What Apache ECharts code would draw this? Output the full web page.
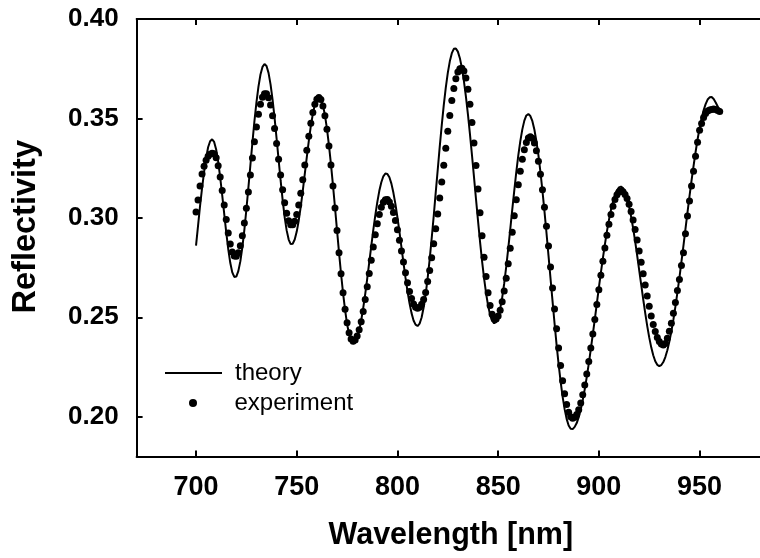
<!DOCTYPE html>
<html><head><meta charset="utf-8">
<script src="https://cdn.jsdelivr.net/npm/echarts@6/dist/echarts.min.js"></script>
<style>html,body{margin:0;padding:0;background:#fff}#c{width:760px;height:558px}</style>
</head><body><div id="c"></div>
<script>
// sampling grid (nm)
const wavelengthStart = 700;
const wavelengthStep = 1;

// theory reflectivity, 700..960 nm, 1 nm steps
const theory = [
0.2860,0.2960,0.3060,0.3150,0.3230,0.3300,0.3355,0.3385,0.3395,0.3382,
0.3344,0.3283,0.3204,0.3114,0.3020,0.2927,0.2843,0.2774,0.2726,0.2703,
0.2705,0.2732,0.2781,0.2852,0.2940,0.3042,0.3152,0.3266,0.3379,0.3486,
0.3581,0.3660,0.3721,0.3759,0.3774,0.3764,0.3729,0.3671,0.3595,0.3503,
0.3399,0.3293,0.3188,0.3090,0.3004,0.2937,0.2891,0.2868,0.2870,0.2891,
0.2931,0.2987,0.3057,0.3136,0.3221,0.3306,0.3387,0.3462,0.3523,0.3570,
0.3599,0.3609,0.3598,0.3567,0.3517,0.3449,0.3365,0.3269,0.3163,0.3052,
0.2938,0.2825,0.2719,0.2622,0.2537,0.2466,0.2414,0.2381,0.2369,0.2376,
0.2397,0.2434,0.2484,0.2546,0.2617,0.2694,0.2776,0.2858,0.2938,0.3013,
0.3079,0.3136,0.3179,0.3209,0.3223,0.3221,0.3204,0.3172,0.3126,0.3069,
0.3002,0.2929,0.2852,0.2774,0.2699,0.2630,0.2570,0.2521,0.2484,0.2463,
0.2456,0.2468,0.2499,0.2549,0.2615,0.2697,0.2791,0.2897,0.3008,0.3127,
0.3242,0.3358,0.3466,0.3567,0.3655,0.3729,0.3787,0.3828,0.3850,0.3852,
0.3836,0.3803,0.3753,0.3688,0.3610,0.3520,0.3421,0.3316,0.3206,0.3095,
0.2986,0.2881,0.2784,0.2697,0.2621,0.2559,0.2512,0.2483,0.2470,0.2476,
0.2500,0.2542,0.2599,0.2670,0.2753,0.2845,0.2942,0.3041,0.3137,0.3230,
0.3314,0.3386,0.3445,0.3489,0.3515,0.3522,0.3512,0.3486,0.3443,0.3385,
0.3314,0.3230,0.3135,0.3033,0.2924,0.2810,0.2695,0.2581,0.2470,0.2363,
0.2266,0.2178,0.2101,0.2038,0.1989,0.1956,0.1939,0.1938,0.1949,0.1968,
0.1998,0.2036,0.2084,0.2139,0.2200,0.2267,0.2340,0.2415,0.2491,0.2570,
0.2649,0.2725,0.2798,0.2867,0.2932,0.2989,0.3039,0.3081,0.3115,0.3139,
0.3153,0.3157,0.3150,0.3130,0.3100,0.3058,0.3007,0.2948,0.2883,0.2812,
0.2739,0.2665,0.2592,0.2522,0.2457,0.2399,0.2349,0.2309,0.2279,0.2261,
0.2255,0.2260,0.2275,0.2300,0.2334,0.2378,0.2429,0.2488,0.2554,0.2625,
0.2700,0.2780,0.2861,0.2945,0.3027,0.3109,0.3187,0.3260,0.3330,0.3394,
0.3451,0.3500,0.3541,0.3572,0.3595,0.3606,0.3608,0.3598,0.3580,0.3560,
0.3540
];

// measured reflectivity, 700..960 nm, 1 nm steps
const experiment = [
0.3030,0.3090,0.3160,0.3220,0.3260,0.3290,0.3310,0.3320,0.3325,0.3322,
0.3302,0.3262,0.3206,0.3138,0.3065,0.2992,0.2924,0.2868,0.2828,0.2808,
0.2807,0.2825,0.2860,0.2910,0.2974,0.3048,0.3130,0.3216,0.3301,0.3383,
0.3457,0.3521,0.3571,0.3606,0.3624,0.3624,0.3604,0.3567,0.3514,0.3449,
0.3374,0.3295,0.3216,0.3141,0.3076,0.3023,0.2986,0.2966,0.2966,0.2983,
0.3017,0.3065,0.3124,0.3192,0.3266,0.3340,0.3411,0.3476,0.3530,0.3571,
0.3596,0.3605,0.3595,0.3563,0.3513,0.3445,0.3362,0.3266,0.3160,0.3049,
0.2936,0.2825,0.2719,0.2623,0.2540,0.2472,0.2422,0.2391,0.2380,0.2386,
0.2406,0.2437,0.2478,0.2529,0.2589,0.2653,0.2720,0.2787,0.2853,0.2915,
0.2970,0.3017,0.3053,0.3078,0.3091,0.3092,0.3080,0.3059,0.3027,0.2987,
0.2940,0.2888,0.2833,0.2778,0.2724,0.2674,0.2630,0.2594,0.2567,0.2550,
0.2545,0.2550,0.2565,0.2590,0.2625,0.2680,0.2735,0.2800,0.2870,0.2945,
0.3020,0.3100,0.3180,0.3265,0.3350,0.3435,0.3515,0.3590,0.3650,0.3700,
0.3733,0.3750,0.3752,0.3738,0.3703,0.3647,0.3571,0.3480,0.3377,0.3263,
0.3145,0.3026,0.2910,0.2802,0.2705,0.2624,0.2559,0.2515,0.2493,0.2492,
0.2507,0.2535,0.2578,0.2632,0.2696,0.2769,0.2847,0.2928,0.3011,0.3091,
0.3167,0.3235,0.3295,0.3343,0.3379,0.3401,0.3408,0.3400,0.3377,0.3338,
0.3285,0.3219,0.3142,0.3054,0.2958,0.2858,0.2753,0.2647,0.2542,0.2442,
0.2346,0.2258,0.2181,0.2115,0.2062,0.2023,0.2000,0.1992,0.1997,0.2011,
0.2035,0.2069,0.2110,0.2159,0.2215,0.2278,0.2345,0.2416,0.2489,0.2564,
0.2638,0.2711,0.2782,0.2849,0.2912,0.2968,0.3017,0.3058,0.3092,0.3116,
0.3130,0.3135,0.3131,0.3118,0.3097,0.3068,0.3032,0.2989,0.2942,0.2889,
0.2834,0.2777,0.2719,0.2662,0.2607,0.2555,0.2507,0.2464,0.2428,0.2399,
0.2378,0.2366,0.2361,0.2368,0.2395,0.2430,0.2470,0.2520,0.2575,0.2635,
0.2690,0.2760,0.2825,0.2920,0.3010,0.3085,0.3160,0.3235,0.3310,0.3380,
0.3440,0.3475,0.3505,0.3525,0.3537,0.3543,0.3545,0.3547,0.3545,0.3540,
0.3535
];

const xTicks = [700, 750, 800, 850, 900, 950];
const yTicks = [0.20, 0.25, 0.30, 0.35, 0.40];
const seriesNames = ['theory', 'experiment'];
const xTitle = 'Wavelength [nm]';
const yTitle = 'Reflectivity';

const toPairs = arr => arr.map((v, i) => [wavelengthStart + i * wavelengthStep, v]);

const FONT = '"Liberation Sans", Arial, Helvetica, sans-serif';
const axisLineStyle = { color: '#000', width: 2 };

const chart = echarts.init(document.getElementById('c'), null, { renderer: 'canvas' });
chart.setOption({
  animation: false,
  backgroundColor: '#fff',
  textStyle: { fontFamily: FONT },
  grid: { left: 136.6, top: 19, width: 633, height: 437.5, containLabel: false },
  xAxis: [{
    type: 'value', min: 670.5, max: 980, position: 'bottom',
    axisLine: { onZero: false, lineStyle: axisLineStyle },
    axisTick: { inside: true, length: 6, lineStyle: { color: '#000', width: 2 }, customValues: xTicks },
    axisLabel: { customValues: xTicks, color: '#000', fontSize: 27, fontWeight: 'bold', fontFamily: FONT, margin: 18 },
    splitLine: { show: false },
    name: xTitle, nameLocation: 'middle', nameGap: 64,
    nameTextStyle: { color: '#000', fontSize: 30.5, fontWeight: 'bold', fontFamily: FONT, padding: [0, 0, 0, 5] }
  }, {
    type: 'value', min: 670.5, max: 980, position: 'top',
    axisLine: { onZero: false, lineStyle: axisLineStyle },
    axisTick: { inside: true, length: 6, lineStyle: { color: '#000', width: 2 }, customValues: xTicks },
    axisLabel: { show: false },
    splitLine: { show: false }
  }],
  yAxis: [{
    type: 'value', min: 0.18, max: 0.40, position: 'left',
    axisLine: { show: true, onZero: false, lineStyle: axisLineStyle },
    axisTick: { show: true, inside: true, length: 6, lineStyle: { color: '#000', width: 2 }, customValues: yTicks },
    axisLabel: { customValues: yTicks, color: '#000', fontSize: 26, fontWeight: 'bold', fontFamily: FONT, margin: 18,
      formatter: v => v.toFixed(2) },
    splitLine: { show: false },
    name: yTitle, nameLocation: 'middle', nameGap: 94,
    nameTextStyle: { color: '#000', fontSize: 32.5, fontWeight: 'bold', fontFamily: FONT, padding: [0, 0, 0, 22] }
  }],
  legend: [{
    data: [{ name: seriesNames[0], icon: 'rect' }], left: 165, top: 361, padding: 0, orient: 'vertical',
    itemWidth: 57, itemHeight: 2,
    textStyle: { color: '#000', fontSize: 24, fontFamily: FONT, padding: [0, 0, 0, 8] }
  }, {
    data: [{ name: seriesNames[1], icon: 'circle' }], left: 189, top: 391, padding: 0, orient: 'vertical',
    itemWidth: 57, itemHeight: 8,
    textStyle: { color: '#000', fontSize: 24, fontFamily: FONT, padding: [0, 0, 0, 8] }
  }],
  series: [{
    name: seriesNames[0], type: 'line', xAxisIndex: 0, yAxisIndex: 0,
    data: toPairs(theory), symbol: 'none', smooth: false,
    lineStyle: { color: '#000', width: 2 }, itemStyle: { color: '#000' }, z: 2
  }, {
    name: seriesNames[1], type: 'scatter', xAxisIndex: 0, yAxisIndex: 0,
    data: toPairs(experiment), symbol: 'circle', symbolSize: 7,
    itemStyle: { color: '#000', opacity: 1 }, z: 3
  }]
});
</script>
</body></html>
